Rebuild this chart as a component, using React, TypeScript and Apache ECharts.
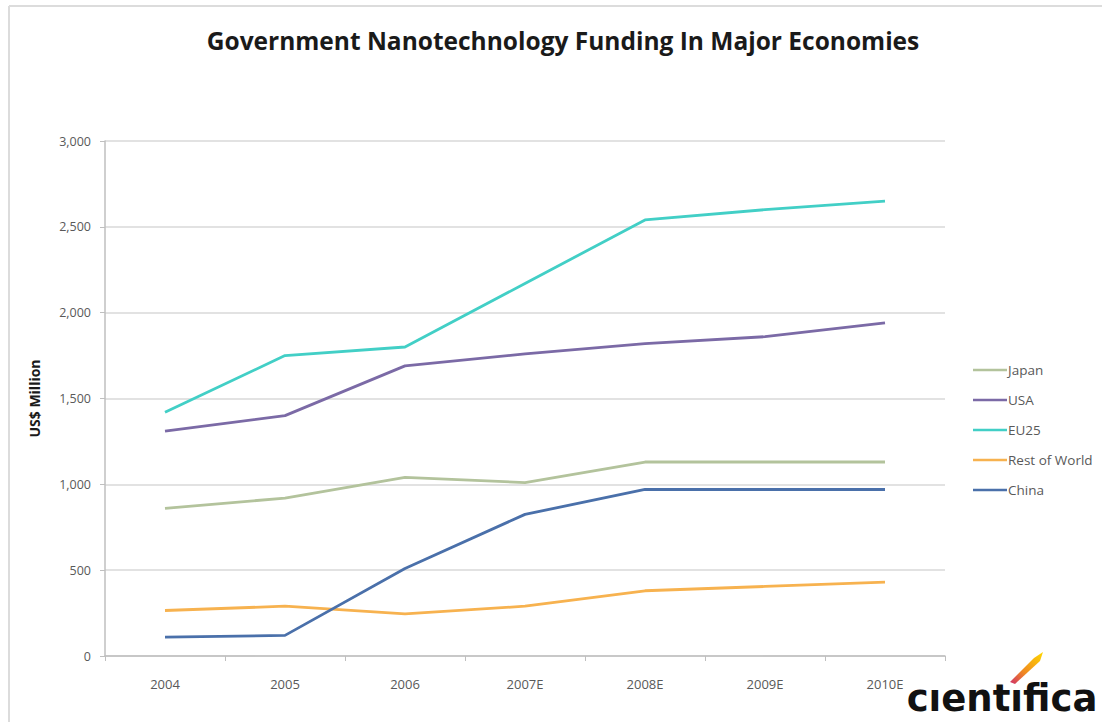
import React, { useEffect, useRef } from "react";
import * as echarts from "echarts";

const categories = ["2004", "2005", "2006", "2007E", "2008E", "2009E", "2010E"];
const japan = [860, 920, 1040, 1010, 1130, 1130, 1130];
const usa = [1310, 1400, 1690, 1760, 1820, 1860, 1940];
const eu25 = [1420, 1750, 1800, 2170, 2540, 2600, 2650];
const restOfWorld = [265, 290, 245, 290, 380, 405, 430];
const china = [110, 120, 510, 825, 970, 970, 970];

const seriesNames = ["Japan", "USA", "EU25", "Rest of World", "China"];
const seriesColors = ["#b3c39c", "#7b6aa6", "#42cfc6", "#f7b24f", "#4a70aa"];

export default function App() {
  const ref = useRef<HTMLDivElement>(null);
  useEffect(() => {
    document.body.style.margin = "0";
    const chart = echarts.init(ref.current!, null, { renderer: "svg" });
    const data = [japan, usa, eu25, restOfWorld, china];
    chart.setOption({
      animation: false,
      backgroundColor: "#ffffff",
      title: {
        text: "Government Nanotechnology Funding In Major Economies",
        left: 558,
        textAlign: "center",
        top: 23,
        textStyle: { fontFamily: "Open Sans", fontWeight: "bold", fontSize: 24.5, color: "#1a1a1a" },
      },
      legend: {
        orient: "vertical",
        left: 968,
        top: 358,
        itemWidth: 34,
        itemHeight: 14,
        itemGap: 16,
        data: seriesNames.map((n) => ({ name: n, icon: "path://M0,6 L34,6 L34,8.5 L0,8.5 Z" })),
        textStyle: { fontFamily: "Open Sans", fontSize: 13.5, color: "#595959", padding: [0, 0, 0, -4] },
      },
      grid: { left: 105, right: 157, top: 141, bottom: 66 },
      xAxis: {
        type: "category",
        data: categories,
        boundaryGap: true,
        axisLine: { lineStyle: { color: "#bfbfbf", width: 1.5 } },
        axisTick: { show: true, length: 5, lineStyle: { color: "#bfbfbf" } },
        axisLabel: { margin: 21, fontFamily: "Open Sans", fontSize: 13, color: "#595959" },
      },
      yAxis: {
        type: "value",
        min: 0,
        max: 3000,
        interval: 500,
        name: "US$ Million",
        nameLocation: "middle",
        nameGap: 64,
        nameTextStyle: { fontFamily: "Open Sans", fontWeight: "bold", fontSize: 14, color: "#1a1a1a" },
        axisLine: { show: true, lineStyle: { color: "#bfbfbf", width: 1.5 } },
        axisTick: { show: true, length: 5, lineStyle: { color: "#bfbfbf" } },
        axisLabel: {
          margin: 14,
          fontFamily: "Open Sans",
          fontSize: 12.5,
          color: "#595959",
          formatter: (v: number) => v.toLocaleString("en-US"),
        },
        splitLine: { lineStyle: { color: "#d9d9d9", width: 1.5 } },
      },
      series: seriesNames.map((n, i) => ({
        name: n,
        type: "line",
        data: data[i],
        symbol: "none",
        color: seriesColors[i],
        lineStyle: { width: 2.8, color: seriesColors[i] },
      })),
      graphic: [
        { type: "line", shape: { x1: 9, y1: 6, x2: 1102, y2: 6 }, style: { stroke: "#dcdcdc", lineWidth: 2 } },
        { type: "line", shape: { x1: 9, y1: 6, x2: 9, y2: 722 }, style: { stroke: "#dcdcdc", lineWidth: 2 } },
        {
          type: "polygon",
          shape: { points: [[1010, 682], [1034, 658], [1043, 652], [1040, 661], [1015, 684]] },
          style: {
            fill: new echarts.graphic.LinearGradient(0, 1, 1, 0, [
              { offset: 0, color: "#d0306a" },
              { offset: 0.4, color: "#f08a20" },
              { offset: 1, color: "#ffd800" },
            ]),
          },
        },
        {
          type: "text",
          x: 1002,
          y: 698,
          style: {
            text: "cıentıfica",
            fontFamily: "DejaVu Sans",
            fontWeight: "bold",
            fontSize: 37,
            fill: "#111111",
            align: "center",
            verticalAlign: "middle",
          },
        },
      ],
    });
    return () => chart.dispose();
  }, []);
  return <div ref={ref} style={{ width: 1102, height: 722 }} />;
}
